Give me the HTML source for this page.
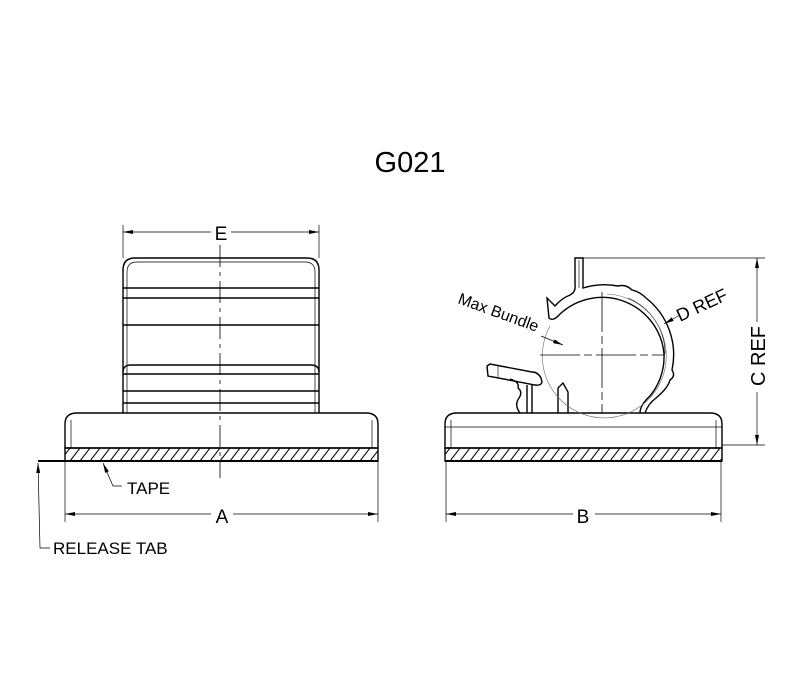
<!DOCTYPE html>
<html><head><style>body{margin:0;background:#fff}svg{display:block}text{font-family:"Liberation Sans",sans-serif;fill:#000}</style></head>
<body>
<svg width="800" height="700" viewBox="0 0 800 700" xmlns="http://www.w3.org/2000/svg">
<defs>
<pattern id="h" width="10" height="13" patternUnits="userSpaceOnUse" patternTransform="translate(0,448)">
<line x1="0" y1="13" x2="10" y2="0" stroke="#000" stroke-width="1"/>
</pattern>
<marker id="ar" viewBox="0 0 10 4" refX="10" refY="2" markerWidth="10" markerHeight="4" orient="auto-start-reverse" markerUnits="userSpaceOnUse"><path d="M0,0 L10,2 L0,4z" fill="#000"/></marker>
</defs>
<text x="410" y="172" font-size="29" text-anchor="middle">G021</text>
<g stroke="#000" fill="none" stroke-width="1.4">
<path d="M123,413 V270 Q123,258 135,258 H307 Q319,258 319,270 V413"/>
<path d="M127,413 V272 Q127,262 137,262 H305 Q315,262 315,272 V413" stroke-width="0.7"/>
<line x1="123" y1="288" x2="319" y2="288"/><line x1="123" y1="298" x2="319" y2="298"/>
<line x1="123" y1="325" x2="319" y2="325"/>
<path d="M123,372 Q123,365 131,365 H311 Q319,365 319,372"/>
<line x1="123" y1="374" x2="319" y2="374"/>
<line x1="123" y1="391" x2="319" y2="391"/><line x1="123" y1="403" x2="319" y2="403"/>
<path d="M65,448 V424 Q65,413 77,413 H366 Q378,413 378,424 V448 Z"/>
<line x1="71" y1="420" x2="71" y2="448" stroke-width="0.7"/><line x1="372" y1="420" x2="372" y2="448" stroke-width="0.7"/>
<rect x="65" y="448" width="313" height="13" fill="url(#h)"/>
<line x1="38" y1="461" x2="378" y2="461" stroke-width="2"/>
<line x1="220" y1="245" x2="220" y2="478" stroke-width="0.8" stroke-dasharray="22,5,4,5"/>
<line x1="123" y1="225" x2="123" y2="258" stroke-width="0.7"/><line x1="319" y1="225" x2="319" y2="258" stroke-width="0.7"/>
<line x1="123" y1="232" x2="211" y2="232" stroke-width="0.7" marker-start="url(#ar)"/>
<line x1="231" y1="232" x2="319" y2="232" stroke-width="0.7" marker-end="url(#ar)"/>
<line x1="65" y1="461" x2="65" y2="522" stroke-width="0.7"/><line x1="378" y1="461" x2="378" y2="522" stroke-width="0.7"/>
<line x1="65" y1="514" x2="211" y2="514" stroke-width="0.7" marker-start="url(#ar)"/>
<line x1="233" y1="514" x2="378" y2="514" stroke-width="0.7" marker-end="url(#ar)"/>
<polyline points="122,486 113,486 103,463" stroke-width="0.7" marker-end="url(#ar)"/>
<polyline points="50,548 40,548 38,463" stroke-width="0.7" marker-end="url(#ar)"/>
<path d="M445,448 V424 Q445,413 457,413 H710 Q722,413 722,424 V448 Z"/>
<line x1="451" y1="420" x2="451" y2="448" stroke-width="0.7"/><line x1="716" y1="420" x2="716" y2="448" stroke-width="0.7"/>
<line x1="445" y1="427" x2="722" y2="427" stroke-width="0.7"/>
<rect x="445" y="448" width="277" height="13" fill="url(#h)"/>
<line x1="445" y1="461" x2="722" y2="461" stroke-width="2"/>
<path d="M645,413 Q648,404 656,398 Q668,388 670,380 Q676,376 672,370 A72,72 0 0 0 646,298 Q640,292 632,290 Q626,284 618,286 A72,72 0 0 0 583,288 V258 H575 V285 Q576,292 570,295 Q562,298 555,306 L547,298 L549,318 Q553,322 560,314 A62,62 0 0 1 664,354 A62,62 0 0 1 650,396 Q640,405 640,413"/>
<path d="M665,354 A60,60 0 0 0 628,298" stroke-width="0.6"/>
<line x1="579" y1="260" x2="579" y2="288" stroke-width="0.6"/>
<path d="M487,366 L488,376 L535,385 Q541,386 542,382 L541,378 Q538,372 532,372 L490,364 Z"/>
<line x1="498" y1="366" x2="498" y2="378" stroke-width="0.6"/>
<path d="M520,413 Q514,405 519,398 Q523,392 518,388 Q520,382 510,379"/>
<path d="M532,413 V385 M527,413 V385"/>
<path d="M558,413 V388 L563,383 L568,392 V413"/>
<path d="M607,294 A62,62 0 1 1 550,326" stroke-width="0.6" stroke="#666"/>
<line x1="540" y1="355" x2="665" y2="355" stroke-width="0.8" stroke-dasharray="40,4,8,4"/>
<line x1="602" y1="292" x2="602" y2="413" stroke-width="0.8" stroke-dasharray="40,4,8,4"/>
<line x1="541" y1="336" x2="563" y2="345" stroke-width="0.7" marker-end="url(#ar)"/>
<line x1="680" y1="315" x2="664" y2="324" stroke-width="0.7" marker-end="url(#ar)"/>
<line x1="583" y1="258" x2="765" y2="258" stroke-width="0.7"/>
<line x1="722" y1="445" x2="765" y2="445" stroke-width="0.7"/>
<line x1="757" y1="258" x2="757" y2="322" stroke-width="0.7" marker-start="url(#ar)"/>
<line x1="757" y1="392" x2="757" y2="445" stroke-width="0.7" marker-end="url(#ar)"/>
<line x1="446" y1="461" x2="446" y2="522" stroke-width="0.7"/><line x1="721" y1="461" x2="721" y2="522" stroke-width="0.7"/>
<line x1="446" y1="514" x2="573" y2="514" stroke-width="0.7" marker-start="url(#ar)"/>
<line x1="595" y1="514" x2="721" y2="514" stroke-width="0.7" marker-end="url(#ar)"/>
</g>
<text x="221" y="240" font-size="19" text-anchor="middle">E</text>
<text x="222" y="523" font-size="19" text-anchor="middle">A</text>
<text x="583" y="523" font-size="19" text-anchor="middle">B</text>
<text x="127" y="494" font-size="17">TAPE</text>
<text x="53" y="554" font-size="17">RELEASE TAB</text>
<text x="0" y="0" font-size="16" transform="translate(457,303) rotate(20)">Max Bundle</text>
<text x="0" y="0" font-size="18" transform="translate(680,322) rotate(-25)">D REF</text>
<text x="0" y="0" font-size="20" text-anchor="middle" transform="translate(765,356) rotate(-90)">C REF</text>
</svg>
</body></html>
